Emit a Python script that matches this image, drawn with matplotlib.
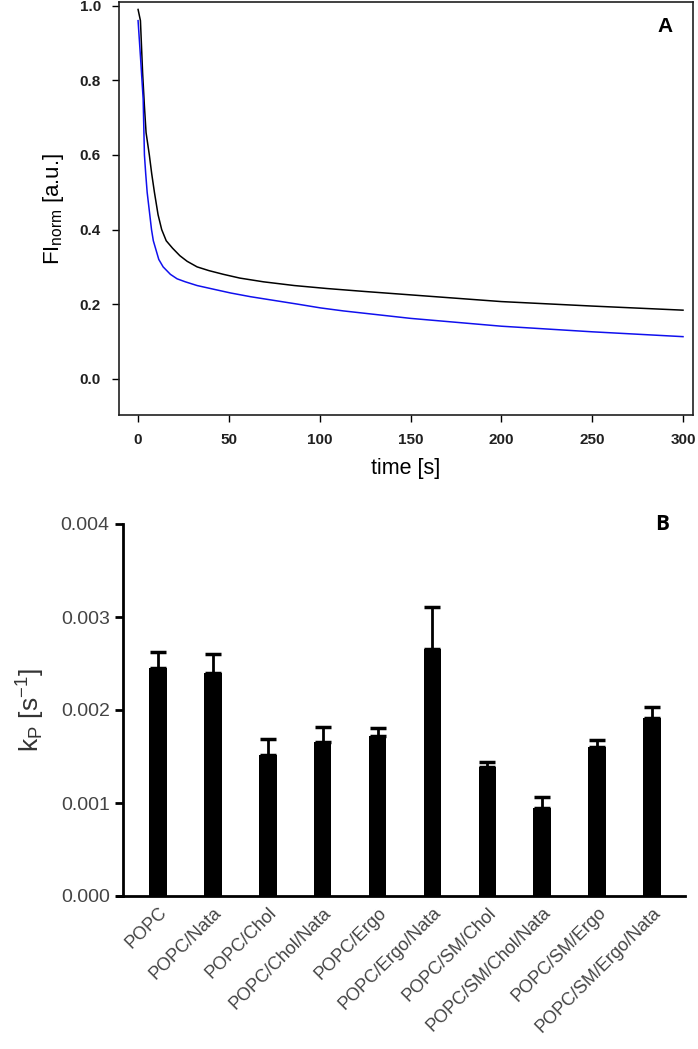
import numpy as np
import matplotlib.pyplot as plt

plt.rcParams['font.family'] = ['Liberation Sans', 'DejaVu Sans']
plt.rcParams['mathtext.fontset'] = 'custom'
plt.rcParams['mathtext.rm'] = 'Liberation Sans'
plt.rcParams['mathtext.it'] = 'Liberation Sans'

# panel A: normalised fluorescence decay
t_black = [0, 1.3, 2.5, 3.5, 4.4, 5.3, 6.2, 7.5, 9, 11, 13, 15.5, 19, 23,
           27, 32.5, 39, 47, 56, 69, 86, 104, 125, 150, 200, 250, 300]
fi_black = [0.99, 0.96, 0.82, 0.73, 0.66, 0.63, 0.60, 0.55, 0.50, 0.44,
            0.40, 0.37, 0.35, 0.33, 0.315, 0.30, 0.29, 0.28, 0.27, 0.26,
            0.25, 0.242, 0.234, 0.225, 0.207, 0.195, 0.184]
t_blue = [0, 1.5, 2.8, 3.5, 4.2, 5, 6.2, 7.4, 8.4, 9.6, 11.4, 13.8, 17.8,
          21.5, 26, 32.5, 41.7, 51, 62, 75, 88, 100.5, 113, 150, 200, 250, 300]
fi_blue = [0.96, 0.85, 0.75, 0.60, 0.55, 0.50, 0.45, 0.40, 0.37, 0.35,
           0.32, 0.30, 0.28, 0.268, 0.26, 0.25, 0.24, 0.23, 0.22, 0.21, 0.20,
           0.19, 0.182, 0.162, 0.141, 0.126, 0.113]

# panel B: kP per lipid composition
samples = ['POPC', 'POPC/Nata', 'POPC/Chol', 'POPC/Chol/Nata', 'POPC/Ergo',
           'POPC/Ergo/Nata', 'POPC/SM/Chol', 'POPC/SM/Chol/Nata',
           'POPC/SM/Ergo', 'POPC/SM/Ergo/Nata']
kp = [0.00245, 0.00240, 0.00152, 0.00166, 0.00172, 0.00266, 0.00139,
      0.00095, 0.00160, 0.00191]
kp_err = [0.00017, 0.00020, 0.00017, 0.00016, 0.00009, 0.00045, 0.00005,
          0.00011, 0.00008, 0.00012]

fig = plt.figure(figsize=(6.98, 10.49), dpi=100)

# ---- panel A ----
axA = fig.add_axes([119/698, 1-415/1049, (693-119)/698, (415-2)/1049])
axA.plot(t_black, fi_black, color='black', lw=1.1)
axA.plot(t_blue, fi_blue, color='#1010ee', lw=1.1)
axA.set_xlim(-10.5, 305.5)
axA.set_ylim(-0.097, 1.01)
axA.set_xticks([0, 50, 100, 150, 200, 250, 300])
axA.set_yticks([0.0, 0.2, 0.4, 0.6, 0.8, 1.0])
axA.set_yticklabels(['0.0', '0.2', '0.4', '0.6', '0.8', '1.0'])
axA.tick_params(direction='out', length=5, width=1, labelsize=11, pad=8)
for lab in axA.get_xticklabels() + axA.get_yticklabels():
    lab.set_fontweight('bold')
    lab.set_color('#202020')
for s in axA.spines.values():
    s.set_linewidth(1.2)
    s.set_color('#202020')
axA.set_xlabel('time [s]', fontsize=15.5, labelpad=8)
axA.set_ylabel(r'FI$_{\mathrm{norm}}$ [a.u.]', fontsize=16, labelpad=10)
axA.text(0.951, 0.94, 'A', transform=axA.transAxes, fontsize=15,
         fontweight='bold', ha='center', va='center')

# ---- panel B ----
x = np.arange(len(samples))
axB = fig.add_axes([117/698, 1-896/1049, (685-117)/698, (896-524)/1049])
axB.bar(x, kp, width=0.32, color='black')
axB.errorbar(x, kp, yerr=[np.zeros(len(kp)), kp_err], fmt='none',
             ecolor='black', elinewidth=2, capsize=6, capthick=2.5)
axB.set_xlim(-0.747, 9.6)
axB.set_ylim(0, 0.004)
axB.set_yticks([0, 0.001, 0.002, 0.003, 0.004])
axB.set_yticklabels(['0.000', '0.001', '0.002', '0.003', '0.004'])
axB.spines['top'].set_visible(False)
axB.spines['right'].set_visible(False)
axB.spines['left'].set_position(('data', -0.64))
axB.spines['left'].set_linewidth(2)
axB.spines['bottom'].set_linewidth(2)
axB.tick_params(axis='y', direction='out', length=6, width=2, labelsize=14,
                labelcolor='#444444')
axB.tick_params(axis='x', length=0, pad=6)
axB.set_xticks(x)
axB.set_xticklabels(samples, rotation=45, ha='right', va='top',
                    rotation_mode='anchor', fontsize=13, color='#444444')
axB.set_ylabel(r'k$_{\mathrm{P}}$ [s$^{\mathrm{-1}}$]', fontsize=19,
               color='#333333', labelpad=10)
axB.text(0.96, 1.0, 'B', transform=axB.transAxes, fontsize=15,
         fontweight='bold', ha='center', va='center', family='Open Sans')

fig.savefig('out.png', dpi=100)
